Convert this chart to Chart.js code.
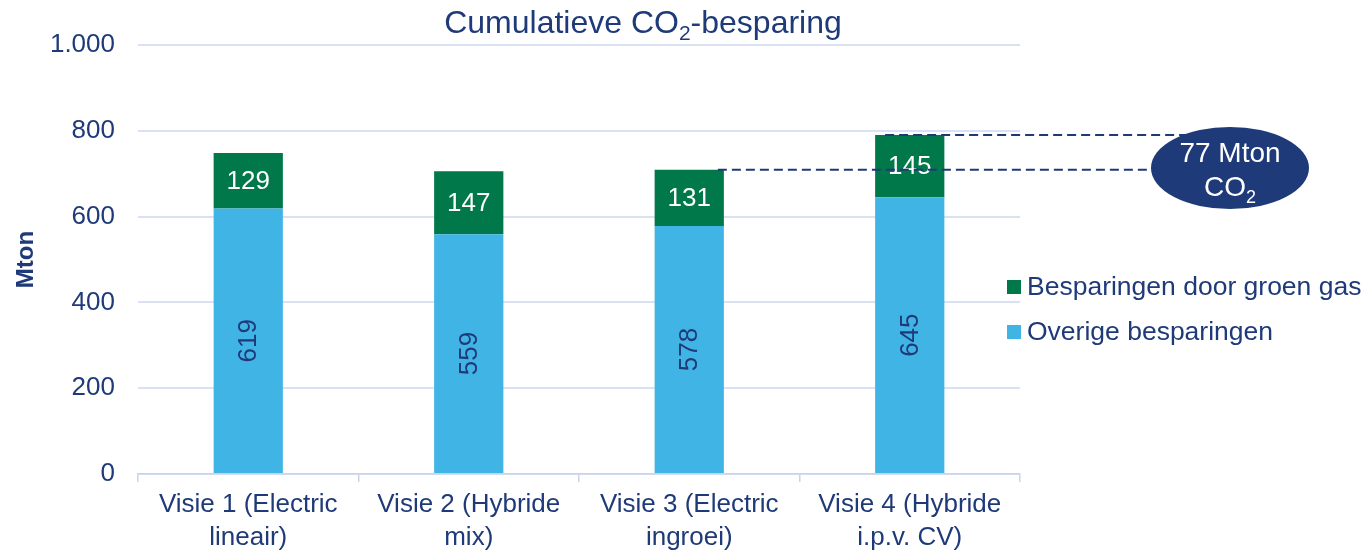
<!DOCTYPE html>
<html>
<head>
<meta charset="utf-8">
<script src="https://cdn.jsdelivr.net/npm/chart.js@4.4.1/dist/chart.umd.min.js"></script>
<style>
  html, body { margin: 0; padding: 0; background: #fff; }
  #wrap { width: 1364px; height: 552px; position: relative; }
</style>
</head>
<body>
<div id="wrap"><canvas id="myChart"></canvas></div>
<script>
// data
var categories = [
  ['Visie 1 (Electric', 'lineair)'],
  ['Visie 2 (Hybride', 'mix)'],
  ['Visie 3 (Electric', 'ingroei)'],
  ['Visie 4 (Hybride', 'i.p.v. CV)']
];
var overigeBesparingen = [619, 559, 578, 645];
var groenGasBesparingen = [129, 147, 131, 145];
var seriesNames = ['Overige besparingen', 'Besparingen door groen gas'];
var yTicks = [0, 200, 400, 600, 800, 1000];
var calloutLines = ['77 Mton', 'CO'];

var NAVY = '#1f3a78';
var GREEN = '#00784a';
var LIGHTBLUE = '#41b4e6';
var FONT = "'Liberation Sans', Arial, sans-serif";

function nlNumber(v) {
  return String(v).replace(/\B(?=(\d{3})+(?!\d))/g, '.');
}

var extras = {
  id: 'extras',
  afterDatasetsDraw: function(chart) {
    var ctx = chart.ctx;
    ctx.save();
    ctx.font = '26px ' + FONT;
    ctx.textAlign = 'center';
    ctx.textBaseline = 'middle';
    chart.getDatasetMeta(0).data.forEach(function(bar, i) {
      var cy = (bar.y + bar.base) / 2;
      ctx.save();
      ctx.translate(bar.x, cy);
      ctx.rotate(-Math.PI / 2);
      ctx.fillStyle = NAVY;
      ctx.fillText(overigeBesparingen[i], 0, 1);
      ctx.restore();
    });
    chart.getDatasetMeta(1).data.forEach(function(bar, i) {
      ctx.fillStyle = '#fff';
      ctx.fillText(groenGasBesparingen[i], bar.x, (bar.y + bar.base) / 2 + 1);
    });
    ctx.restore();
  },
  afterDraw: function(chart) {
    var ctx = chart.ctx;
    var y = chart.scales.y;
    var b3 = chart.getDatasetMeta(1).data[2];
    var b4 = chart.getDatasetMeta(1).data[3];
    var ex = 1230, ey = 168;

    // dashed lines from top of visie 4 and visie 3
    ctx.save();
    ctx.strokeStyle = NAVY;
    ctx.lineWidth = 2;
    ctx.setLineDash([9, 5]);
    ctx.beginPath();
    var y4 = y.getPixelForValue(overigeBesparingen[3] + groenGasBesparingen[3]);
    ctx.moveTo(b4.x - b4.width / 2 + 10, y4);
    ctx.lineTo(ex, y4);
    var y3 = y.getPixelForValue(overigeBesparingen[2] + groenGasBesparingen[2]);
    ctx.moveTo(b3.x + b3.width / 2 - 6, y3);
    ctx.lineTo(ex, y3);
    ctx.stroke();
    ctx.restore();

    // ellipse callout
    ctx.save();
    ctx.fillStyle = NAVY;
    ctx.beginPath();
    ctx.ellipse(ex, ey, 79, 41, 0, 0, Math.PI * 2);
    ctx.fill();
    ctx.fillStyle = '#fff';
    ctx.textBaseline = 'middle';
    ctx.textAlign = 'center';
    ctx.font = '28px ' + FONT;
    ctx.fillText(calloutLines[0], ex, 154);
    var w = ctx.measureText(calloutLines[1]).width;
    ctx.font = '18px ' + FONT;
    var w2 = ctx.measureText('2').width;
    var sx = ex - (w + w2) / 2;
    ctx.textAlign = 'left';
    ctx.font = '28px ' + FONT;
    ctx.fillText(calloutLines[1], sx, 188);
    ctx.font = '18px ' + FONT;
    ctx.fillText('2', sx + w, 198);
    ctx.restore();

    // title with subscript
    ctx.save();
    ctx.fillStyle = NAVY;
    ctx.textBaseline = 'alphabetic';
    ctx.textAlign = 'left';
    var big = '32px ' + FONT, small = '21px ' + FONT;
    var p1 = 'Cumulatieve CO', p2 = '2', p3 = '-besparing';
    ctx.font = big;
    var a = ctx.measureText(p1).width, c = ctx.measureText(p3).width;
    ctx.font = small;
    var bw = ctx.measureText(p2).width;
    var tx = 643 - (a + bw + c) / 2, ty = 33;
    ctx.font = big;
    ctx.fillText(p1, tx, ty);
    ctx.font = small;
    ctx.fillText(p2, tx + a, ty + 7);
    ctx.font = big;
    ctx.fillText(p3, tx + a + bw, ty);
    ctx.restore();

    // legend (top entry = upper series)
    ctx.save();
    ctx.font = '26.5px ' + FONT;
    ctx.textBaseline = 'middle';
    ctx.textAlign = 'left';
    var items = [
      { text: chart.data.datasets[1].label, color: chart.data.datasets[1].backgroundColor },
      { text: chart.data.datasets[0].label, color: chart.data.datasets[0].backgroundColor }
    ];
    items.forEach(function(it, i) {
      var ly = 287 + i * 45;
      ctx.fillStyle = it.color;
      ctx.fillRect(1007, ly - 7, 14, 14);
      ctx.fillStyle = NAVY;
      ctx.fillText(it.text, 1027, ly + 1);
    });
    ctx.restore();
  }
};

var ctx = document.getElementById('myChart').getContext('2d');
var myChart = new Chart(ctx, {
  type: 'bar',
  data: {
    labels: categories,
    datasets: [{
      label: seriesNames[0],
      data: overigeBesparingen,
      backgroundColor: LIGHTBLUE,
      barPercentage: 0.314,
      categoryPercentage: 1
    }, {
      label: seriesNames[1],
      data: groenGasBesparingen,
      backgroundColor: GREEN,
      barPercentage: 0.314,
      categoryPercentage: 1
    }]
  },
  options: {
    responsive: true,
    maintainAspectRatio: false,
    animation: false,
    layout: {
      padding: { left: 0, right: 344, top: 45, bottom: 0 }
    },
    plugins: {
      legend: { display: false },
      title: { display: false },
      tooltip: { enabled: false }
    },
    scales: {
      x: {
        stacked: true,
        grid: {
          offset: true,
          drawOnChartArea: false,
          drawTicks: true,
          tickLength: 8,
          color: '#c9d4ea',
          lineWidth: 1.5
        },
        border: { color: '#c9d4ea', width: 1.5 },
        ticks: {
          color: NAVY,
          font: { family: FONT, size: 26, lineHeight: 1.25 },
          padding: 7,
          maxRotation: 0,
          autoSkip: false
        },
        afterFit: function(scale) { scale.height = 78; }
      },
      y: {
        stacked: true,
        min: 0,
        max: yTicks[yTicks.length - 1],
        afterBuildTicks: function(scale) {
          scale.ticks = yTicks.map(function(v) { return { value: v }; });
        },
        grid: {
          drawTicks: false,
          color: '#d9e2f3',
          lineWidth: 2
        },
        border: { display: false },
        ticks: {
          color: NAVY,
          font: { family: FONT, size: 26 },
          padding: 23,
          callback: function(v) { return nlNumber(v); }
        },
        title: {
          display: true,
          text: 'Mton',
          color: NAVY,
          font: { family: FONT, size: 24, weight: 'bold' },
          padding: { top: 12, bottom: 0 }
        },
        afterFit: function(scale) { scale.width = 138; }
      }
    }
  },
  plugins: [extras]
});
</script>
</body>
</html>
